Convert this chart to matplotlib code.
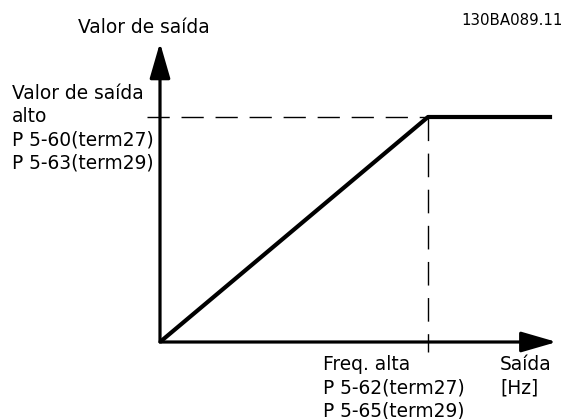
import matplotlib.pyplot as plt
from matplotlib.patches import ArrowStyle

# curva: saída vs frequência (unidades normalizadas)
freq = [0.0, 1.0, 1.463]
saida = [0.0, 1.0, 1.0]
freq_alta = 1.0
valor_alto = 1.0

rotulo_y = 'Valor de saída'
rotulo_y_alto = ['Valor de saída', 'alto', 'P 5-60(term27)', 'P 5-63(term29)']
rotulo_x_alta = ['Freq. alta', 'P 5-62(term27)', 'P 5-65(term29)']
rotulo_x = ['Saída', '[Hz]']
codigo = '130BA089.11'

W, H = 573, 419
fig = plt.figure(figsize=(W / 100, H / 100), dpi=100)
ax = fig.add_axes([0, 0, 1, 1])
# origem em (160, 342) px, unidade x = 268 px, unidade y = 225 px
ax.set_xlim(-160 / 268, (W - 160) / 268)
ax.set_ylim(-(H - 342) / 225, 342 / 225)
ax.axis('off')

seta = ArrowStyle('-|>', head_length=1.45, head_width=0.42)
ax.annotate('', xy=(0, 1.33), xytext=(0, 0),
            arrowprops=dict(arrowstyle=seta, mutation_scale=15, lw=2.3,
                            color='black', shrinkA=0, shrinkB=0))
ax.annotate('', xy=(1.48, 0), xytext=(0, 0),
            arrowprops=dict(arrowstyle=seta, mutation_scale=15, lw=2.3,
                            color='black', shrinkA=0, shrinkB=0))

ax.plot([-0.05, freq_alta], [valor_alto, valor_alto], color='black', lw=1.0,
        dashes=(16, 8.5))
ax.plot([freq_alta, freq_alta], [valor_alto, -0.045], color='black', lw=1.0,
        dashes=(17, 9))
ax.plot(freq, saida, color='black', lw=3.0, solid_capstyle='butt')

fs = 13.4
def txt(x, y, s, size=fs, ha='left'):
    fig.text(x / W, 1 - y / H, s, fontsize=size, ha=ha, va='baseline',
             family='DejaVu Sans')

txt(78, 33, rotulo_y)
for i, s in enumerate(rotulo_y_alto):
    txt(12, 99 + 23 * i, s)
for i, s in enumerate(rotulo_x_alta):
    txt(323, 370 + 23 * i, s)
for i, s in enumerate(rotulo_x):
    txt(500, 370 + 23 * i, s)
txt(563, 25, codigo, size=10.8, ha='right')

fig.savefig('out.png', dpi=100)
